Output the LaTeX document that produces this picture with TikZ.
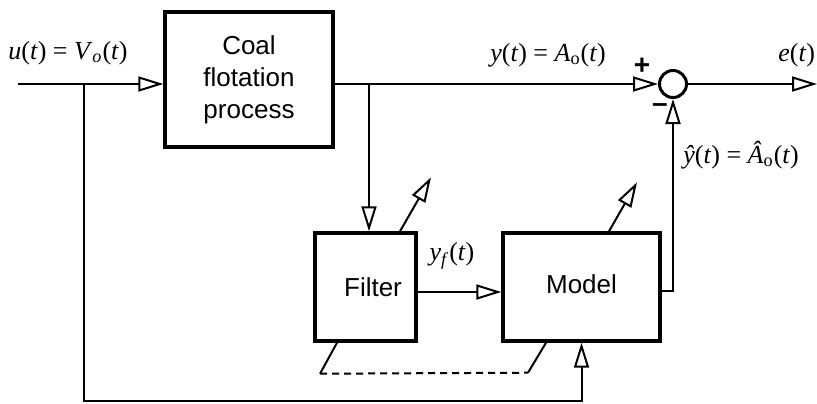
\documentclass[tikz,border=0pt]{standalone}
\usepackage{fontspec}
\setmainfont{Liberation Serif}
\setsansfont{Liberation Sans}
\usetikzlibrary{arrows.meta}
\newcommand{\vi}[1]{\textit{#1}}

\tikzset{
  blockbox/.style={draw, line width=1.7pt, font=\sffamily\fontsize{13}{16}\selectfont, align=center, inner sep=0pt},
  sumnode/.style={draw, circle, line width=1.5pt, minimum size=13.5pt, inner sep=0pt},
  sig/.style={line width=1pt, -{Triangle[open, length=12.5pt, width=7.5pt]}},
  wire/.style={line width=1pt},
  lbl/.style={font=\fontsize{13}{15}\selectfont, inner sep=0pt},
  sgn/.style={font=\sffamily\bfseries\fontsize{14}{16}\selectfont, inner sep=0pt}
}

\begin{document}
\begin{tikzpicture}[x=0.5pt, y=-0.5pt]
\useasboundingbox (0,0) rectangle (817,403);
% blocks
\node[blockbox, minimum width=84pt, minimum height=67.5pt] (proc) at (249,79.5) {Coal\\flotation\\process};
\node[blockbox, minimum width=50.5pt, minimum height=54pt] (filt) at (365.5,287) {\hspace*{7.5pt}Filter};
\node[blockbox, minimum width=78.5pt, minimum height=54pt] (model) at (581.5,287) {\raisebox{3pt}{Model}};
\node[sumnode] (sum) at (673,84) {};
% points on the wires
\coordinate (in) at (18,84);
\coordinate (tap1) at (84,84);
\coordinate (tap2) at (369,84);
\coordinate (out) at (817,84);
\coordinate (low) at (84,401);
% signals
\draw[sig] (in) -- (in -| proc.west);
\draw[sig] (in -| proc.east) -- (sum.west);
\draw[sig] (sum.east) -- (out);
\draw[sig] (tap2) -- (tap2 |- filt.north);
\draw[sig] ([yshift=-2.5pt]filt.east) -- ([yshift=-2.5pt]filt.east -| model.west);
\draw[sig] ([yshift=-2pt]model.east) -| (sum.south);
\draw[sig] (tap1) -- (low) -| (model.south);
% adjustment
\draw[sig] ([xshift=17.25pt]filt.north) -- ++(31,-54);
\draw[sig] ([xshift=13.75pt]model.north) -- ++(28,-49);
\draw[wire] ([xshift=-14.25pt]filt.south) -- ++(-17,31) coordinate (dl);
\draw[wire] ([xshift=-17.75pt]model.south) -- ++(-18,30) coordinate (dr);
\draw[wire, dash pattern=on 3.5pt off 2.5pt] (dl) -- (dr);
% labels
\node[lbl] (uin) at (68,53) {\vi{u}(\vi{t}) = \vi{V}\textsubscript{\vi{o}}(\vi{t})};
\node[lbl] (yout) at (548,55) {\vi{y}(\vi{t}) = \vi{A}\textsubscript{o}(\vi{t})};
\node[lbl, anchor=west] (err) at (778,55) {\vi{e}(\vi{t})};
\node[lbl, anchor=west] (yhat) at (683,155) {\vi{ŷ}(\vi{t}) = \vi{Â}\textsubscript{o}(\vi{t})};
\node[lbl] (yf) at (452,256) {\vi{y}\textsubscript{\vi{f}}(\vi{t})};
\node[sgn] (plus) at (642,66) {+};
\node[sgn] (minus) at (660,108) {–};
\end{tikzpicture}
\end{document}
